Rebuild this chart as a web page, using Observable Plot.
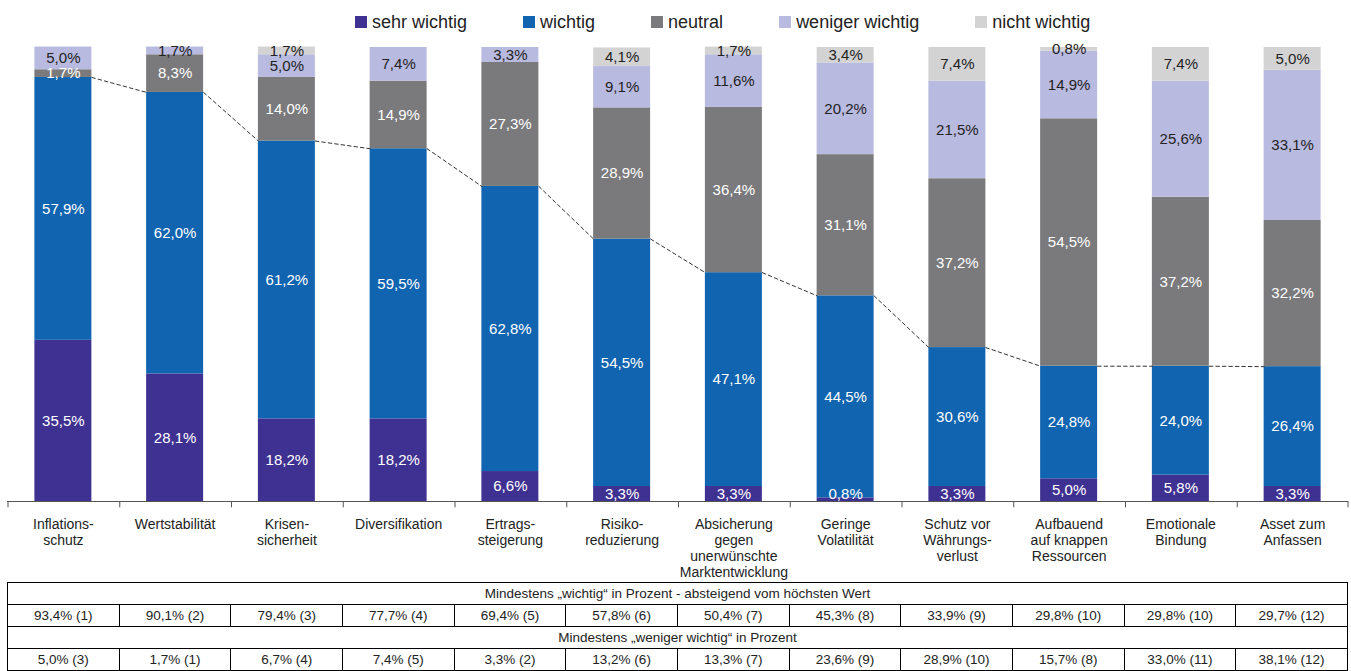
<!DOCTYPE html>
<html>
<head>
<meta charset="utf-8">
<script src="https://cdn.jsdelivr.net/npm/d3@7"></script>
<script src="https://cdn.jsdelivr.net/npm/@observablehq/plot@0.6"></script>
<style>
  html, body { margin: 0; padding: 0; background: #fff; }
  body { width: 1351px; height: 671px; overflow: hidden; font-family: "Liberation Sans", Arial, sans-serif; }
  #legend { position: relative; height: 40px; }
  #legend .items { position: absolute; left: 355px; top: 11px; display: flex; gap: 56px; align-items: center; }
  #legend .item { display: flex; align-items: center; font-size: 18px; color: #222; white-space: nowrap; line-height: 22px; }
  #legend .sw { width: 12px; height: 12px; margin-right: 5px; display: inline-block; }
  table { border-collapse: collapse; margin-left: 7px; width: 1341px; table-layout: fixed; font-size: 13.5px; color: #222; }
  td { border: 1.5px solid #000; text-align: center; height: 21px; padding: 0; line-height: 21px; }
</style>
</head>
<body>
<div id="legend"><div class="items"></div></div>
<div id="chart"></div>
<div id="table"></div>
<script>
// ---- data ----
const categories = [
  "Inflations-\nschutz", "Wertstabilität", "Krisen-\nsicherheit", "Diversifikation",
  "Ertrags-\nsteigerung", "Risiko-\nreduzierung", "Absicherung\ngegen\nunerwünschte\nMarktentwicklung",
  "Geringe\nVolatilität", "Schutz vor\nWährungs-\nverlust", "Aufbauend\nauf knappen\nRessourcen",
  "Emotionale\nBindung", "Asset zum\nAnfassen"
];
const seriesNames = ["sehr wichtig", "wichtig", "neutral", "weniger wichtig", "nicht wichtig"];
const seriesColors = ["#3f3192", "#1164b0", "#7a7a7c", "#b9badf", "#d3d3d4"];
const labelColors = ["#ffffff", "#ffffff", "#ffffff", "#222222", "#222222"];

const sehrWichtig    = [35.5, 28.1, 18.2, 18.2, 6.6, 3.3, 3.3, 0.8, 3.3, 5.0, 5.8, 3.3];
const wichtig        = [57.9, 62.0, 61.2, 59.5, 62.8, 54.5, 47.1, 44.5, 30.6, 24.8, 24.0, 26.4];
const neutral        = [1.7, 8.3, 14.0, 14.9, 27.3, 28.9, 36.4, 31.1, 37.2, 54.5, 37.2, 32.2];
const wenigerWichtig = [5.0, 1.7, 5.0, 7.4, 3.3, 9.1, 11.6, 20.2, 21.5, 14.9, 25.6, 33.1];
const nichtWichtig   = [0, 0, 1.7, 0, 0, 4.1, 1.7, 3.4, 7.4, 0.8, 7.4, 5.0];

const mindWichtig      = [93.4, 90.1, 79.4, 77.7, 69.4, 57.8, 50.4, 45.3, 33.9, 29.8, 29.8, 29.7];
const mindWichtigRang  = [1, 2, 3, 4, 5, 6, 7, 8, 9, 10, 10, 12];
const mindWeniger      = [5.0, 1.7, 6.7, 7.4, 3.3, 13.2, 13.3, 23.6, 28.9, 15.7, 33.0, 38.1];
const mindWenigerRang  = [3, 1, 4, 5, 2, 6, 7, 9, 10, 8, 11, 12];

const tableTitle1 = "Mindestens „wichtig“ in Prozent - absteigend vom höchsten Wert";
const tableTitle2 = "Mindestens „weniger wichtig“ in Prozent";

// ---- derived tables ----
const seriesValues = [sehrWichtig, wichtig, neutral, wenigerWichtig, nichtWichtig];
const fmt = v => v.toFixed(1).replace(".", ",") + "%";

const rows = [];
const labels = [];
categories.forEach((c, i) => {
  let base = 0;
  seriesValues.forEach((arr, s) => {
    const v = arr[i];
    rows.push({cat: c, series: seriesNames[s], value: v});
    if (v > 0) {
      const mid = s === 0 ? Math.max(v / 2, 1.65) : base + v / 2;
      labels.push({cat: c, y: mid, text: fmt(v), color: labelColors[s]});
    }
    base += v;
  });
});
const lineData = categories.map((c, i) => ({cat: c, v: mindWichtig[i]}));

// ---- layout ----
const W = 1351, H = 542, ML = 7, MR = 3, MT = 7, MB = 81;
const PAD = 0.49;
const step = (W - ML - MR) / categories.length;

// curve: connect right edge of bar i to left edge of bar i+1 (series lines)
function seriesLineCurve(context) {
  let pts = [];
  return {
    areaStart() {}, areaEnd() {},
    lineStart() { pts = []; },
    point(x, y) { pts.push([+x, +y]); },
    lineEnd() {
      if (pts.length < 2) return;
      const st = pts[1][0] - pts[0][0];
      const hw = st * (1 - PAD) / 2;
      for (let i = 0; i < pts.length - 1; i++) {
        context.moveTo(pts[i][0] + hw, pts[i][1]);
        context.lineTo(pts[i + 1][0] - hw, pts[i + 1][1]);
      }
    }
  };
}

const plot = Plot.plot({
  width: W, height: H,
  marginLeft: ML, marginRight: MR, marginTop: MT, marginBottom: MB,
  style: {fontFamily: "'Liberation Sans', Arial, sans-serif", background: "#fff"},
  x: {domain: categories, paddingInner: PAD, paddingOuter: PAD / 2, align: 0.5, round: false, axis: null},
  y: {domain: [0, 100], axis: null},
  color: {domain: seriesNames, range: seriesColors},
  marks: [
    Plot.barY(rows, {x: "cat", y: "value", fill: "series", order: seriesNames}),
    Plot.line(lineData, {x: "cat", y: "v", stroke: "#333", strokeWidth: 1, strokeDasharray: "3.5,3", curve: seriesLineCurve}),
    Plot.text(labels, {x: "cat", y: "y", text: "text", fill: "color", fontSize: 15}),
    Plot.ruleY([0], {stroke: "#555", strokeWidth: 1}),
    Plot.ruleX(categories, {x: d => d, y1: 0, y2: -1.4, dx: -step / 2 + 0.5, stroke: "#555"}),
    Plot.ruleX([categories[categories.length - 1]], {x: d => d, y1: 0, y2: -1.4, dx: step / 2 - 0.5, stroke: "#555"}),
    Plot.text(categories, {x: d => d, y: 0, text: d => d, dy: 16, lineAnchor: "top", lineHeight: 1.15, fontSize: 14, fill: "#222"})
  ]
});
document.getElementById("chart").appendChild(plot);

// ---- legend ----
const items = document.querySelector("#legend .items");
seriesNames.forEach((n, i) => {
  const it = document.createElement("div");
  it.className = "item";
  const sw = document.createElement("span");
  sw.className = "sw";
  sw.style.background = seriesColors[i];
  it.appendChild(sw);
  it.appendChild(document.createTextNode(n));
  items.appendChild(it);
});

// ---- table ----
const table = document.createElement("table");
function titleRow(t) {
  const tr = document.createElement("tr");
  const td = document.createElement("td");
  td.colSpan = categories.length;
  td.textContent = t;
  tr.appendChild(td);
  table.appendChild(tr);
}
function valueRow(vals, ranks) {
  const tr = document.createElement("tr");
  vals.forEach((v, i) => {
    const td = document.createElement("td");
    td.textContent = fmt(v) + " (" + ranks[i] + ")";
    tr.appendChild(td);
  });
  table.appendChild(tr);
}
titleRow(tableTitle1);
valueRow(mindWichtig, mindWichtigRang);
titleRow(tableTitle2);
valueRow(mindWeniger, mindWenigerRang);
document.getElementById("table").appendChild(table);
</script>
</body>
</html>
